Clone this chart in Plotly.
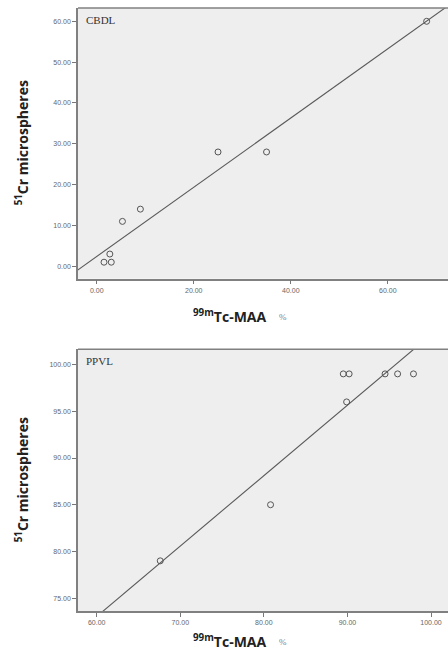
import numpy as np
import plotly.graph_objects as go

# CBDL panel data (x: 99mTc-MAA %, y: 51Cr microspheres %)
cbdl_x = [1.5, 3.0, 2.7, 5.3, 9.0, 25.0, 35.0, 68.0]
cbdl_y = [1.0, 1.0, 3.0, 11.0, 14.0, 28.0, 28.0, 60.0]
cbdl_ticks = [0, 20, 40, 60]
cbdl_yticks = [0, 10, 20, 30, 40, 50, 60]

# PPVL panel data
ppvl_x = [67.6, 80.8, 89.5, 90.2, 89.9, 94.5, 96.0, 97.9]
ppvl_y = [79.0, 85.0, 99.0, 99.0, 96.0, 99.0, 99.0, 99.0]
ppvl_ticks = [60, 70, 80, 90, 100]
ppvl_yticks = [75, 80, 85, 90, 95, 100]

W, H = 448, 651
x_rng1 = [-3.86, 72.4]
y_rng1 = [-3.04, 63.26]
x_rng2 = [57.76, 102.03]
y_rng2 = [73.6, 101.63]

fig = go.Figure()

def fit_line(xs, ys, xr):
    m, b = np.polyfit(xs, ys, 1)
    xx = np.array([xr[0] - 5, xr[1] + 5])
    return xx, m * xx + b

for xs, ys, xr, xa, ya in [(cbdl_x, cbdl_y, x_rng1, "x", "y"),
                           (ppvl_x, ppvl_y, x_rng2, "x2", "y2")]:
    lx, ly = fit_line(xs, ys, xr)
    fig.add_trace(go.Scatter(x=lx, y=ly, mode="lines", xaxis=xa, yaxis=ya,
                             line=dict(color="#5a5a5a", width=1.1),
                             showlegend=False, hoverinfo="skip"))
    fig.add_trace(go.Scatter(x=xs, y=ys, mode="markers", xaxis=xa, yaxis=ya,
                             marker=dict(symbol="circle-open", size=6,
                                         color="#555555", line=dict(width=1)),
                             showlegend=False))

tickfont = dict(family="Liberation Sans, Arial, sans-serif", size=7, color="#666666")
ax_common = dict(showgrid=False, zeroline=False, showline=True, linecolor="#808080",
                 linewidth=1.5, ticks="outside", ticklen=4, tickcolor="#777777",
                 tickwidth=1, tickfont=tickfont, tickformat=".2f")

top_dom = [1 - 278.7 / H, 1 - 8 / H]
bot_dom = [1 - 611.3 / H, 1 - 349.3 / H]
xdom = [78 / W, 1.0]

fig.update_layout(
    width=W, height=H,
    margin=dict(l=0, r=0, t=0, b=0),
    paper_bgcolor="white",
    plot_bgcolor="#eeeeee",
    xaxis=dict(domain=xdom, range=x_rng1, tickvals=cbdl_ticks, anchor="y", **ax_common),
    yaxis=dict(domain=top_dom, range=y_rng1, tickvals=cbdl_yticks, anchor="x", **ax_common),
    xaxis2=dict(domain=xdom, range=x_rng2, tickvals=ppvl_ticks, anchor="y2", **ax_common),
    yaxis2=dict(domain=bot_dom, range=y_rng2, tickvals=ppvl_yticks, anchor="x2", **ax_common),
)

# top frame lines
for dom in (top_dom, bot_dom):
    fig.add_shape(type="line", xref="paper", yref="paper", x0=xdom[0], x1=1.0,
                  y0=dom[1], y1=dom[1], line=dict(color="#808080", width=1.5))

ytitle = "<b><sup>51</sup>Cr microspheres</b>"
xtitle = "<b><sup>99m</sup>Tc-MAA</b>"
tfont = dict(family="Open Sans, Liberation Sans, sans-serif", size=14, color="#222222")
pfont = dict(family="Liberation Serif, serif", size=9, color="#808080")
lfont = dict(family="Liberation Serif, Times New Roman, serif", size=11, color="#333333")

annots = []
for dom, label, xt_y in [(top_dom, "CBDL", 316), (bot_dom, "PPVL", 641)]:
    annots.append(dict(text=ytitle, textangle=-90, x=22 / W, y=(dom[0] + dom[1]) / 2,
                       xref="paper", yref="paper", showarrow=False, font=tfont,
                       xanchor="center", yanchor="middle"))
    annots.append(dict(text=xtitle, x=230 / W, y=1 - xt_y / H, xref="paper", yref="paper",
                       showarrow=False, font=tfont, xanchor="center", yanchor="middle"))
    annots.append(dict(text="%", x=283 / W, y=1 - (xt_y + 1) / H, xref="paper", yref="paper",
                       showarrow=False, font=pfont, xanchor="center", yanchor="middle"))
    annots.append(dict(text=label, x=84 / W, y=dom[1] - 4 / H, xref="paper", yref="paper",
                       showarrow=False, font=lfont, xanchor="left", yanchor="top"))
fig.update_layout(annotations=annots)

fig.write_html("out.html")
